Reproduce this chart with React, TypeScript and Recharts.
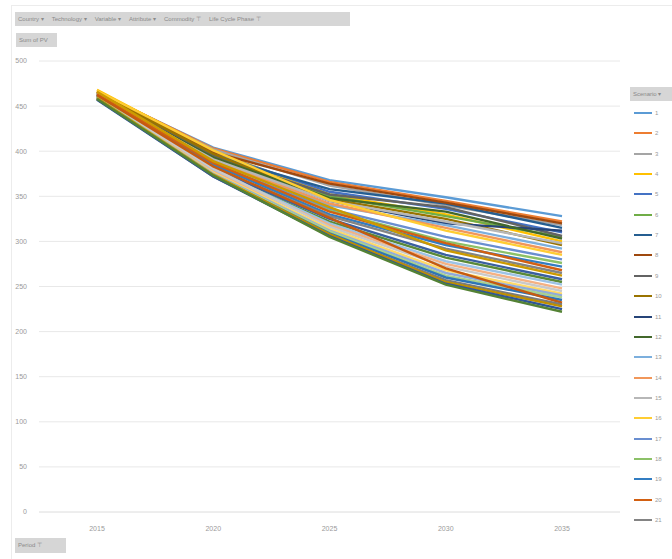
import React from "react";
import { LineChart, Line, XAxis, YAxis, CartesianGrid } from "recharts";

const periods = ["2015", "2020", "2025", "2030", "2035"];
const yTicks = [0, 50, 100, 150, 200, 250, 300, 350, 400, 450, 500];
const filterFields = ["Country", "Technology", "Variable", "Attribute", "Commodity", "Life Cycle Phase"];

// one row per scenario, values for 2015..2035
const scenarioValues: number[][] = [
  [465, 404, 368, 349, 328],
  [466, 403, 366, 345, 322],
  [464, 402, 362, 340, 318],
  [468, 400, 352, 330, 300],
  [463, 398, 355, 336, 310],
  [462, 396, 350, 328, 305],
  [464, 395, 358, 342, 315],
  [466, 399, 364, 343, 320],
  [463, 394, 352, 338, 306],
  [465, 397, 347, 325, 296],
  [462, 392, 345, 320, 312],
  [461, 393, 348, 333, 303],
  [460, 388, 340, 318, 292],
  [464, 390, 342, 315, 288],
  [461, 391, 345, 322, 298],
  [467, 401, 346, 312, 285],
  [460, 386, 336, 305, 280],
  [459, 384, 334, 300, 276],
  [461, 385, 330, 296, 272],
  [463, 387, 333, 298, 268],
  [460, 382, 328, 292, 265],
  [466, 389, 338, 290, 262],
  [459, 380, 325, 285, 258],
  [458, 378, 322, 282, 255],
  [460, 379, 320, 278, 252],
  [459, 377, 318, 275, 248],
  [461, 381, 316, 272, 245],
  [458, 376, 314, 268, 242],
  [459, 375, 312, 265, 240],
  [460, 374, 311, 262, 238],
  [458, 373, 309, 260, 235],
  [462, 383, 326, 270, 232],
  [458, 372, 307, 257, 230],
  [459, 374, 308, 255, 228],
  [457, 372, 306, 253, 225],
  [458, 373, 305, 252, 222],
];

const scenarioColors = [
  "#5B9BD5", "#ED7D31", "#A5A5A5", "#FFC000", "#4472C4", "#70AD47",
  "#255E91", "#9E480E", "#636363", "#997300", "#264478", "#43682B",
  "#7CAFDD", "#F1975A", "#B7B7B7", "#FFCD33", "#698ED0", "#8CC168",
  "#327DC2", "#D26012", "#848484", "#CC9A00", "#3A5FA0", "#5A8A39",
  "#9DC3E6", "#F4B183", "#C9C9C9", "#FFD966", "#8FAADC", "#A9D18E",
  "#2E75B6", "#C55A11", "#7B7B7B", "#BF8F00", "#2F5597", "#548235",
];

const legendCount = 21;

const scenarioNames = scenarioValues.map((_, i) => String(i + 1));

const data = periods.map((p, pi) => {
  const row: Record<string, string | number> = { period: p };
  scenarioValues.forEach((vals, si) => {
    row["s" + si] = vals[pi];
  });
  return row;
});

const font = "'Liberation Sans', Arial, sans-serif";
const labelGrey = "#9a9a9a";

const btn: React.CSSProperties = {
  position: "absolute",
  background: "#d6d6d6",
  color: "#8a8a8a",
  fontSize: 6,
  fontFamily: font,
  lineHeight: "14px",
  paddingLeft: 3,
  boxSizing: "border-box",
  whiteSpace: "nowrap",
  overflow: "hidden",
};

export default function App() {
  return (
    <div style={{ position: "absolute", left: 0, top: 0, width: 672, height: 559, background: "#fff", overflow: "hidden" }}>
      <div style={{ position: "absolute", left: 11, top: 5, width: 661, height: 1, background: "#ececec" }} />
      <div style={{ position: "absolute", left: 11, top: 5, width: 1, height: 554, background: "#ececec" }} />

      <div style={{ ...btn, left: 15, top: 12, width: 335, height: 14, display: "flex" }}>
        {filterFields.map((f, i) => (
          <span key={f} style={{ marginRight: 8 }}>
            {f} {i < 4 ? "▾" : "⊤"}
          </span>
        ))}
      </div>
      <div style={{ ...btn, left: 16, top: 33, width: 41, height: 14 }}>Sum of PV</div>
      <div style={{ ...btn, left: 15, top: 538, width: 51, height: 15 }}>Period ⊤</div>
      <div style={{ ...btn, left: 630, top: 87, width: 42, height: 14 }}>Scenario ▾</div>

      <div style={{ position: "absolute", left: 0, top: 0 }}>
        <LineChart width={625} height={545} data={data} margin={{ top: 61, right: 5, bottom: 9, left: 0 }}>
          <CartesianGrid vertical={false} stroke="#e8e8e8" strokeWidth={1} />
          <XAxis
            dataKey="period"
            padding={{ left: 58, right: 58 }}
            axisLine={{ stroke: "#e8e8e8" }}
            tickLine={false}
            height={24}
            tickMargin={8}
            stroke={labelGrey}
            tick={{ fontSize: 7, fill: labelGrey, fontFamily: font }}
          />
          <YAxis
            domain={[0, 500]}
            ticks={yTicks}
            width={39}
            axisLine={false}
            tickLine={false}
            tickMargin={6}
            stroke={labelGrey}
            tick={{ fontSize: 7, fill: labelGrey, fontFamily: font }}
          />
          {scenarioValues.map((_, si) => (
            <Line
              key={si}
              type="linear"
              dataKey={"s" + si}
              name={scenarioNames[si]}
              stroke={scenarioColors[si % scenarioColors.length]}
              strokeWidth={2.4}
              dot={false}
              activeDot={false}
              isAnimationActive={false}
            />
          ))}
        </LineChart>
      </div>

      {scenarioNames.slice(0, legendCount).map((name, i) => (
        <div
          key={name}
          style={{ position: "absolute", left: 634, top: 113 + i * 20.35 - 5, height: 10, display: "flex", alignItems: "center" }}
        >
          <div style={{ width: 18, height: 2, background: scenarioColors[i] }} />
          <span style={{ marginLeft: 3, fontSize: 6, color: labelGrey, fontFamily: font }}>{name}</span>
        </div>
      ))}
    </div>
  );
}
